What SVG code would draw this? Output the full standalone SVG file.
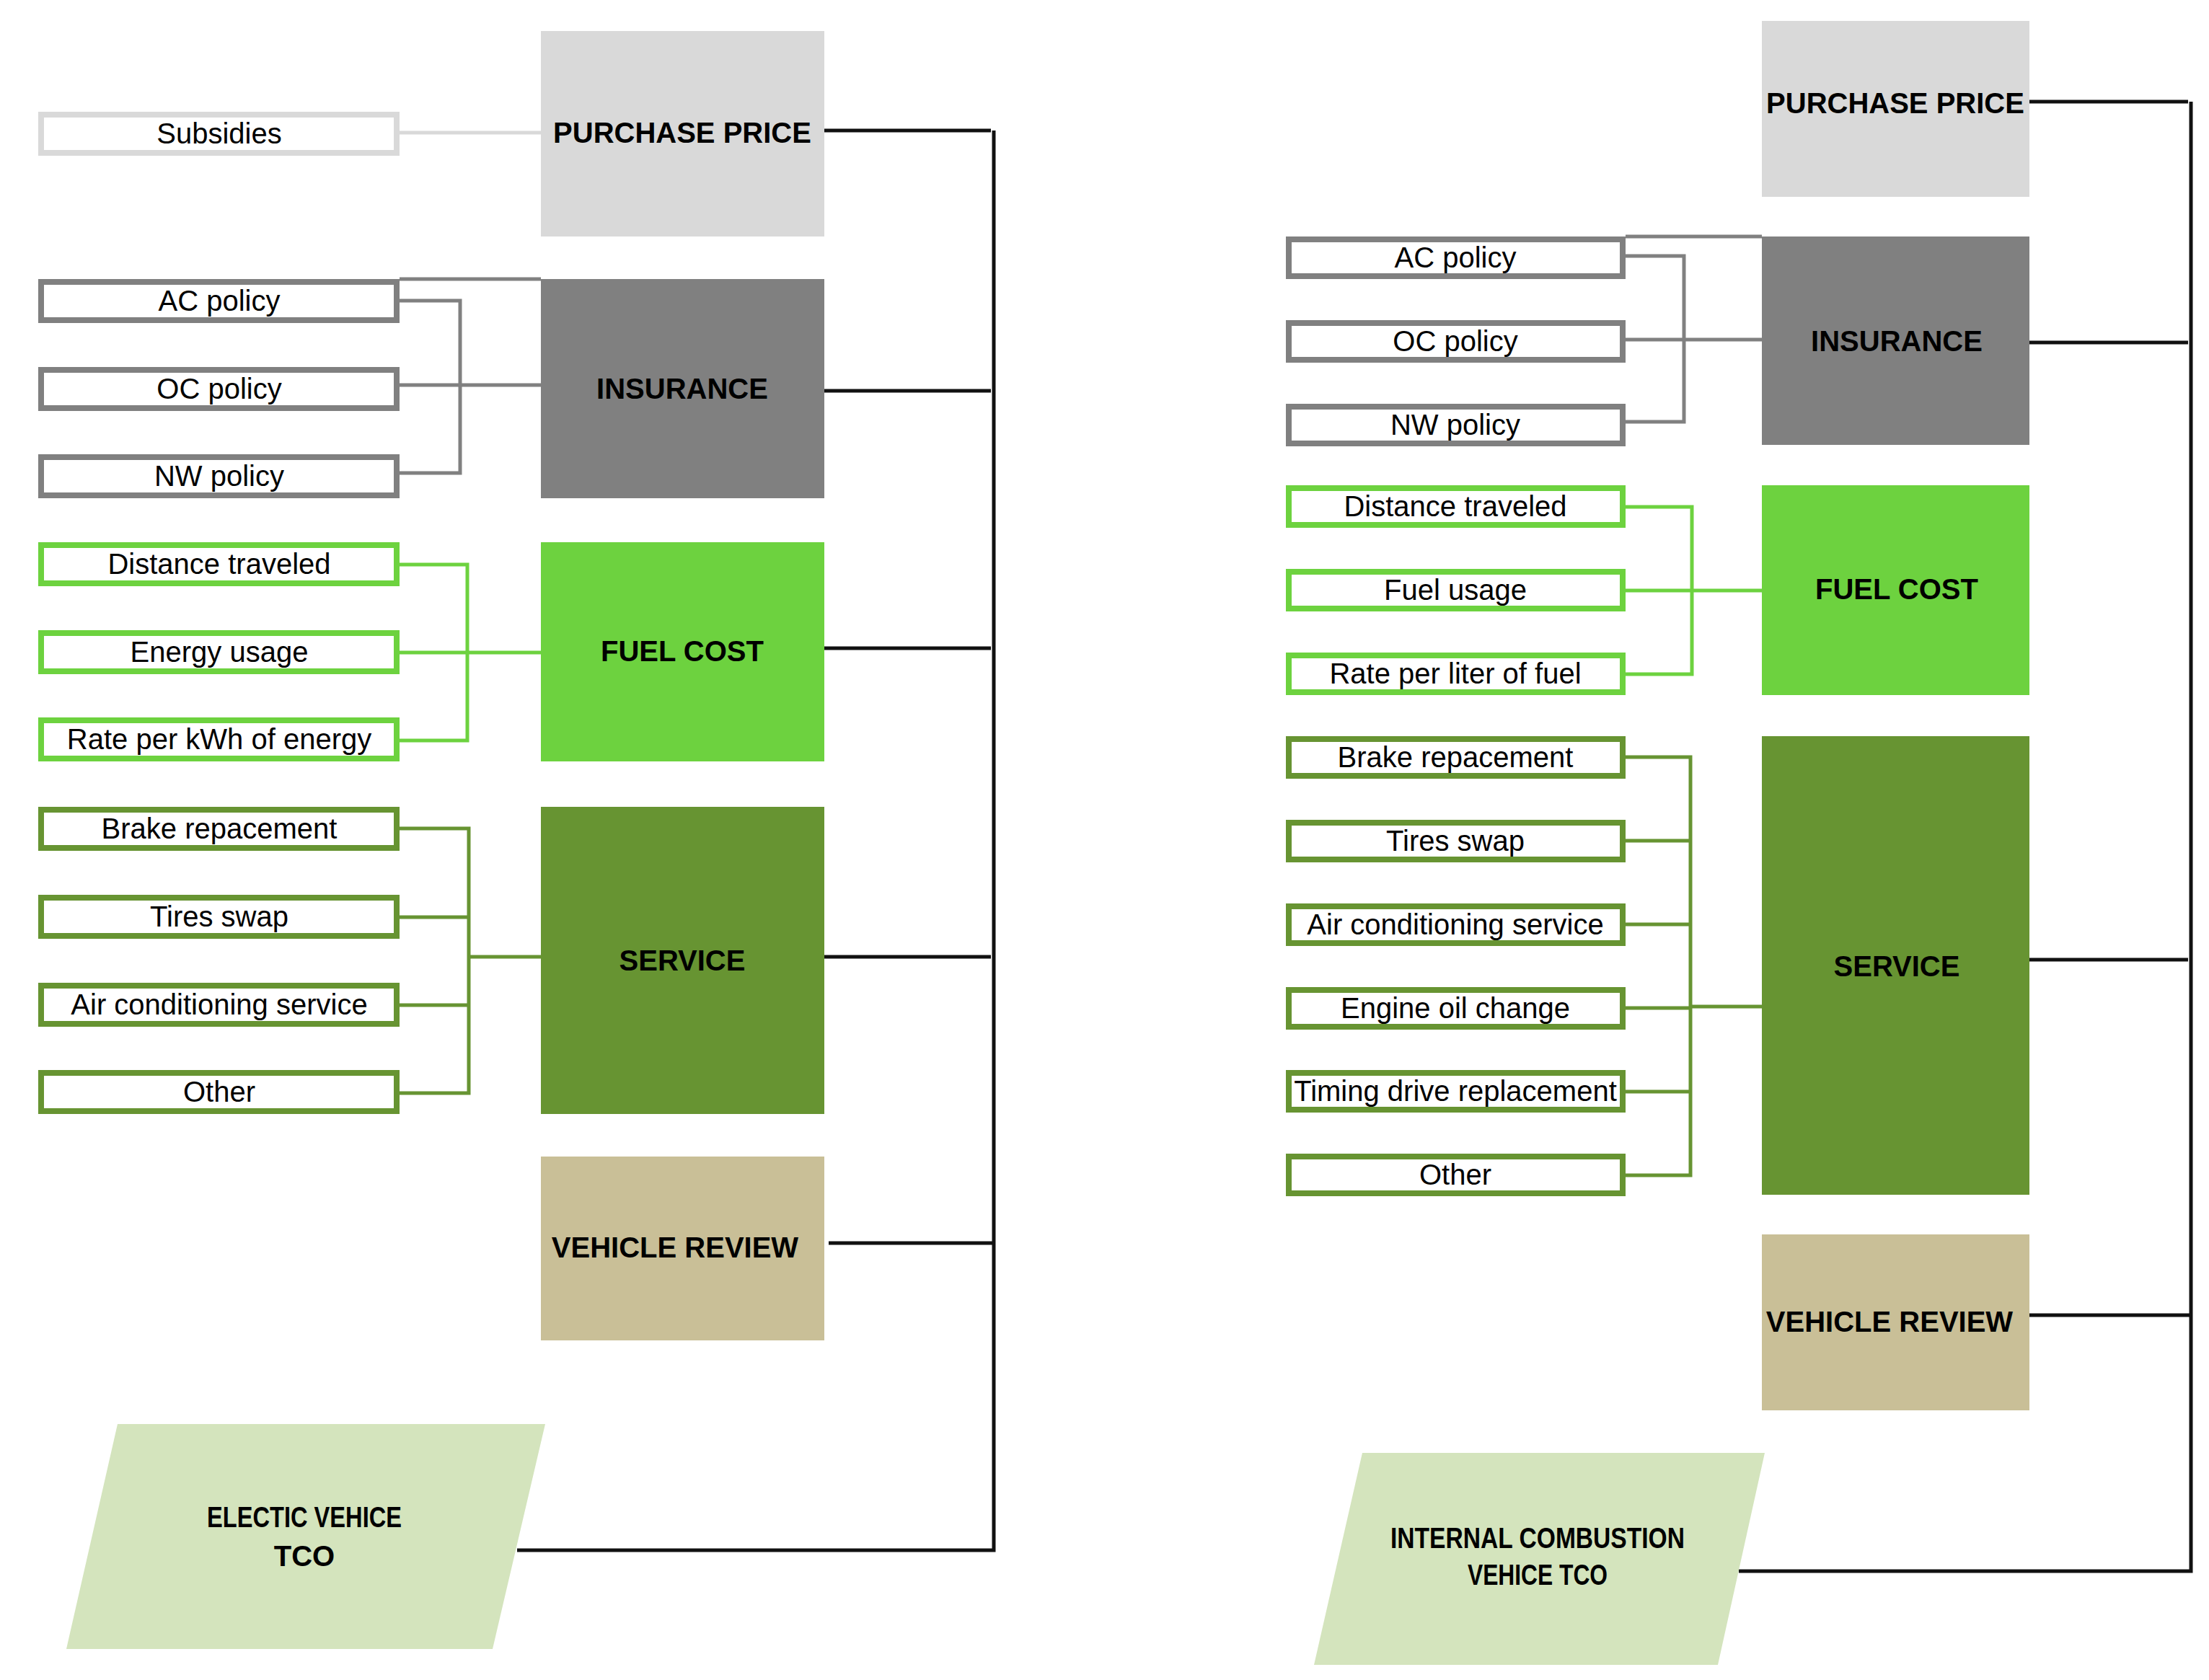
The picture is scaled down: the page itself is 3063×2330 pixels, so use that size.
<svg xmlns="http://www.w3.org/2000/svg" width="3063" height="2330" viewBox="0 0 3063 2330">
<style>
.b{fill:#fff;stroke-width:8}
.g{stroke:#808080}.lg{stroke:#d9d9d9}.fg{stroke:#6dd23f}.sg{stroke:#679432}
.t{font-family:"Liberation Sans",Arial,sans-serif;font-size:40px;text-anchor:middle;fill:#000}
.h{font-family:"Liberation Sans",Arial,sans-serif;font-size:40px;font-weight:bold;text-anchor:middle;fill:#000}
.c{fill:none;stroke-width:5}
.k{fill:none;stroke:#111;stroke-width:5}
</style>
<g id="connectors">
<path class="c lg" d="M554 184H750"/>
<path class="c g" stroke-width="3" d="M554 387H750"/>
<path class="c g" d="M554 417H638V656H554M554 534H750"/>
<path class="c fg" d="M554 783H648V1027H554M554 905H750"/>
<path class="c sg" d="M554 1149H650V1516H554M554 1272H650M554 1394H650M650 1327H750"/>
<path class="k" d="M1143 181H1374M1143 542H1374M1143 899H1374M1143 1327H1374M1149 1724H1376M717 2150H1378V181"/>
<path class="c g" stroke-width="3" d="M2254 328H2443"/>
<path class="c g" d="M2254 355H2335V585H2254M2254 471H2443"/>
<path class="c fg" d="M2254 703H2346V935H2254M2254 819H2443"/>
<path class="c sg" d="M2254 1050H2344V1630H2254M2254 1166H2344M2254 1282H2344M2254 1398H2344M2254 1514H2344M2344 1396H2443"/>
<path class="k" d="M2814 141H3034M2814 475H3034M2814 1331H3034M2814 1824H3036M2411 2179H3038V141"/>
</g>
<g id="left-pp"><rect x="750" y="43" width="393" height="285" fill="#d9d9d9"/><text class="h" x="946" y="198">PURCHASE PRICE</text></g>
<g id="left-ins"><rect x="750" y="387" width="393" height="304" fill="#808080"/><text class="h" x="946" y="553">INSURANCE</text></g>
<g id="left-fuel"><rect x="750" y="752" width="393" height="304" fill="#6dd23f"/><text class="h" x="946" y="917">FUEL COST</text></g>
<g id="left-service"><rect x="750" y="1119" width="393" height="426" fill="#679432"/><text class="h" x="946" y="1346">SERVICE</text></g>
<g id="left-vr"><rect x="750" y="1604" width="393" height="255" fill="#c9bf97"/><text class="h" x="936" y="1744">VEHICLE REVIEW</text></g>
<g id="left-tco"><polygon points="163,1975 756,1975 683,2287 92,2287" fill="#d4e4bd"/><text class="h" font-size="36" x="422" y="2118" textLength="270" lengthAdjust="spacingAndGlyphs">ELECTIC VEHICE</text><text class="h" font-size="36" x="422" y="2172">TCO</text></g>
<g id="l-sub"><rect class="b lg" x="57" y="159" width="493" height="53"/><text class="t" x="304" y="199">Subsidies</text></g>
<g id="l-ac"><rect class="b g" x="57" y="391" width="493" height="53"/><text class="t" x="304" y="431">AC policy</text></g>
<g id="l-oc"><rect class="b g" x="57" y="513" width="493" height="53"/><text class="t" x="304" y="553">OC policy</text></g>
<g id="l-nw"><rect class="b g" x="57" y="634" width="493" height="53"/><text class="t" x="304" y="674">NW policy</text></g>
<g id="l-dist"><rect class="b fg" x="57" y="756" width="493" height="53"/><text class="t" x="304" y="796">Distance traveled</text></g>
<g id="l-energy"><rect class="b fg" x="57" y="878" width="493" height="53"/><text class="t" x="304" y="918">Energy usage</text></g>
<g id="l-rate"><rect class="b fg" x="57" y="999" width="493" height="53"/><text class="t" x="304" y="1039">Rate per kWh of energy</text></g>
<g id="l-brake"><rect class="b sg" x="57" y="1123" width="493" height="53"/><text class="t" x="304" y="1163">Brake repacement</text></g>
<g id="l-tires"><rect class="b sg" x="57" y="1245" width="493" height="53"/><text class="t" x="304" y="1285">Tires swap</text></g>
<g id="l-air"><rect class="b sg" x="57" y="1367" width="493" height="53"/><text class="t" x="304" y="1407">Air conditioning service</text></g>
<g id="l-other"><rect class="b sg" x="57" y="1488" width="493" height="53"/><text class="t" x="304" y="1528">Other</text></g>
<g id="right-pp"><rect x="2443" y="29" width="371" height="244" fill="#d9d9d9"/><text class="h" x="2628" y="157">PURCHASE PRICE</text></g>
<g id="right-ins"><rect x="2443" y="328" width="371" height="289" fill="#808080"/><text class="h" x="2630" y="487">INSURANCE</text></g>
<g id="right-fuel"><rect x="2443" y="673" width="371" height="291" fill="#6dd23f"/><text class="h" x="2630" y="831">FUEL COST</text></g>
<g id="right-service"><rect x="2443" y="1021" width="371" height="636" fill="#679432"/><text class="h" x="2630" y="1354">SERVICE</text></g>
<g id="right-vr"><rect x="2443" y="1712" width="371" height="244" fill="#c9bf97"/><text class="h" x="2620" y="1847">VEHICLE REVIEW</text></g>
<g id="right-tco"><polygon points="1889,2015 2447,2015 2382,2309 1822,2309" fill="#d4e4bd"/><text class="h" font-size="36" x="2132" y="2147" textLength="408" lengthAdjust="spacingAndGlyphs">INTERNAL COMBUSTION</text><text class="h" font-size="36" x="2132" y="2198" textLength="194" lengthAdjust="spacingAndGlyphs">VEHICE TCO</text></g>
<g id="r-ac"><rect class="b g" x="1787" y="332" width="463" height="51"/><text class="t" x="2018" y="371">AC policy</text></g>
<g id="r-oc"><rect class="b g" x="1787" y="448" width="463" height="51"/><text class="t" x="2018" y="487">OC policy</text></g>
<g id="r-nw"><rect class="b g" x="1787" y="564" width="463" height="51"/><text class="t" x="2018" y="603">NW policy</text></g>
<g id="r-dist"><rect class="b fg" x="1787" y="677" width="463" height="51"/><text class="t" x="2018" y="716">Distance traveled</text></g>
<g id="r-fuel"><rect class="b fg" x="1787" y="793" width="463" height="51"/><text class="t" x="2018" y="832">Fuel usage</text></g>
<g id="r-rate"><rect class="b fg" x="1787" y="909" width="463" height="51"/><text class="t" x="2018" y="948">Rate per liter of fuel</text></g>
<g id="r-brake"><rect class="b sg" x="1787" y="1025" width="463" height="51"/><text class="t" x="2018" y="1064">Brake repacement</text></g>
<g id="r-tires"><rect class="b sg" x="1787" y="1141" width="463" height="51"/><text class="t" x="2018" y="1180">Tires swap</text></g>
<g id="r-air"><rect class="b sg" x="1787" y="1257" width="463" height="51"/><text class="t" x="2018" y="1296">Air conditioning service</text></g>
<g id="r-engine"><rect class="b sg" x="1787" y="1373" width="463" height="51"/><text class="t" x="2018" y="1412">Engine oil change</text></g>
<g id="r-timing"><rect class="b sg" x="1787" y="1488" width="463" height="51"/><text class="t" x="2018" y="1527">Timing drive replacement</text></g>
<g id="r-other"><rect class="b sg" x="1787" y="1604" width="463" height="51"/><text class="t" x="2018" y="1643">Other</text></g>
</svg>
